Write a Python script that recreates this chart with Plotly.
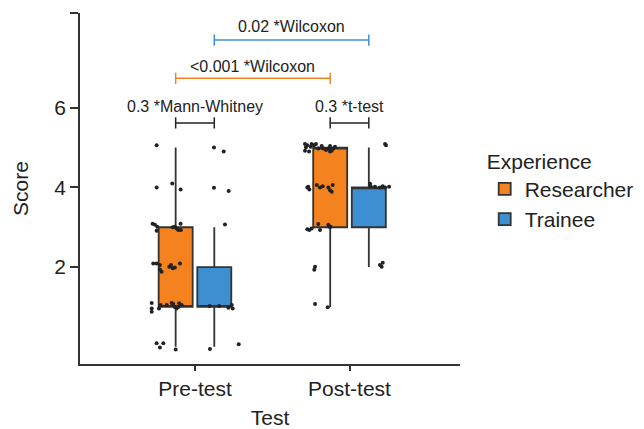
import plotly.graph_objects as go

# ---------------- data ----------------
tests = ["Pre-test", "Post-test"]
groups = ["Researcher", "Trainee"]
colors = {"Researcher": "#F4831F", "Trainee": "#3D8FD1"}

# box statistics per group (Pre-test, Post-test)
q1 = {"Researcher": [1, 3], "Trainee": [1, 3]}
median = {"Researcher": [1, 5], "Trainee": [1, 4]}
q3 = {"Researcher": [3, 5], "Trainee": [2, 4]}
lower = {"Researcher": [0, 1], "Trainee": [0, 2]}
upper = {"Researcher": [5, 5], "Trainee": [3, 5]}

# jittered raw scores (value, horizontal jitter relative to box centre)
pre_res_y = [5.06, 4.00, 4.10, 3.95, 3.09, 3.06, 3.01, 2.91, 3.00, 3.01, 2.97, 3.09, 2.93, 2.93,
             2.09, 2.09, 2.05, 1.94, 1.88, 2.01, 2.05, 1.97, 1.99, 2.09,
             1.10, 0.96, 0.88, 0.96, 1.05, 1.05, 1.10, 1.07, 1.00, 0.96, 1.09, 1.05, 1.00,
             0.09, -0.02, 0.09, -0.07]
pre_res_j = [-0.123, -0.123, -0.022, 0.032, -0.149, -0.134, -0.119, -0.123, -0.019, -0.005, 0.006, 0.032, 0.034, 0.017,
             -0.145, -0.123, -0.102, -0.102, -0.091, -0.041, -0.030, -0.019, -0.005, 0.028,
             -0.155, -0.155, -0.155, -0.108, -0.097, -0.058, -0.026, -0.016, -0.005, 0.006, 0.023, 0.039, 0.017,
             -0.123, -0.102, -0.080, 0.000]
pre_tra_y = [5.00, 4.90, 3.99, 3.91, 3.07, 1.02, 1.02, 0.98, 1.05, 0.96, -0.06, 0.06]
pre_tra_j = [-0.002, 0.061, -0.002, 0.093, 0.069, -0.030, 0.032, 0.091, 0.113, 0.119, -0.028, 0.158]
post_res_y = [5.09, 5.06, 5.01, 4.92, 4.90, 5.09, 5.06, 5.09, 4.98, 5.04, 4.98, 4.94, 4.98, 5.04, 4.92, 4.98,
              5.02, 4.90, 5.02,
              4.02, 4.00, 3.95, 4.06, 4.00, 4.03, 4.00, 3.93, 3.89, 4.06,
              2.95, 2.93, 2.97, 3.08, 2.93, 3.06, 3.01, 3.01,
              2.01, 1.93, 1.07, 0.99]
post_res_j = [-0.163, -0.148, -0.157, -0.163, -0.137, -0.120, -0.105, -0.092, -0.077, -0.055, -0.045, -0.027,
              -0.012, -0.001, 0.010, 0.020, 0.031, -0.001, -0.126,
              -0.142, -0.148, -0.135, -0.087, -0.066, -0.049, -0.012, -0.001, 0.010, 0.016,
              -0.148, -0.135, -0.120, -0.077, -0.066, -0.012, -0.006, 0.003,
              -0.098, -0.103, -0.098, -0.016]
post_tra_y = [5.09, 5.06, 4.09, 4.03, 4.02, 4.00, 4.03, 4.00, 4.02, 2.05, 2.01, 2.11]
post_tra_j = [0.105, 0.111, 0.008, 0.012, 0.040, 0.072, 0.090, 0.105, 0.131, 0.072, 0.083, 0.090]

points = {
    ("Researcher", 0): (pre_res_y, pre_res_j),
    ("Trainee", 0): (pre_tra_y, pre_tra_j),
    ("Researcher", 1): (post_res_y, post_res_j),
    ("Trainee", 1): (post_tra_y, post_tra_j),
}

# significance brackets
bracket_from = [("Trainee", 0), ("Researcher", 0), ("Researcher", 0), ("Researcher", 1)]
bracket_to = [("Trainee", 1), ("Researcher", 1), ("Trainee", 0), ("Trainee", 1)]
bracket_y = [7.70, 6.74, 5.62, 5.62]
bracket_text = ["0.02 *Wilcoxon", "<0.001 *Wilcoxon", "0.3 *Mann-Whitney", "0.3 *t-test"]
bracket_text_y = [8.03, 7.03, 6.03, 6.03]
bracket_color = ["#3D8FD1", "#F4831F", "#222222", "#222222"]

# ---------------- layout constants ----------------
BOXGAP = 0.5
BOXGROUPGAP = 0.12
dodge = {"Researcher": -(1 - BOXGAP) / 4, "Trainee": (1 - BOXGAP) / 4}
FONT = "Liberation Sans, Arial, Helvetica, sans-serif"
INK = "#222222"
FS = 21

fig = go.Figure()

for g in groups:
    fig.add_trace(go.Box(
        name=g, x=[0, 1], offsetgroup=g,
        q1=q1[g], median=median[g], q3=q3[g],
        lowerfence=lower[g], upperfence=upper[g],
        fillcolor=colors[g], line=dict(color="#333333", width=1.8),
        whiskerwidth=0, boxpoints=False, hoverinfo="skip",
    ))

for (g, t), (ys, js) in points.items():
    xs = [t + dodge[g] + j for j in js]
    fig.add_trace(go.Scatter(
        x=xs, y=ys, mode="markers", showlegend=False, hoverinfo="skip",
        marker=dict(color=INK, size=4),
    ))

for (ga, ta), (gb, tb), by, txt, ty, col in zip(bracket_from, bracket_to, bracket_y,
                                                 bracket_text, bracket_text_y, bracket_color):
    xa = ta + dodge[ga]
    xb = tb + dodge[gb]
    fig.add_trace(go.Scatter(
        x=[xa, xb], y=[by, by], mode="lines+markers", showlegend=False, hoverinfo="skip",
        line=dict(color=col, width=1.5),
        marker=dict(symbol="line-ns-open", size=8, line=dict(color=col, width=1.5)),
    ))
    fig.add_annotation(x=(xa + xb) / 2, y=ty, text=txt, showarrow=False,
                       xanchor="center", yanchor="middle",
                       font=dict(family=FONT, size=16, color=INK))

# the page body adds an 8px offset, so the figure is 8px smaller than the window
fig.update_layout(
    width=636, height=421,
    margin=dict(l=72, r=184, t=5, b=65, autoexpand=False),
    paper_bgcolor="white", plot_bgcolor="white",
    boxmode="group", boxgap=BOXGAP, boxgroupgap=BOXGROUPGAP,
    font=dict(family=FONT, size=FS, color=INK),
    legend=dict(
        title=dict(text="Experience", font=dict(size=FS)),
        x=1.065, xanchor="left", y=0.634, yanchor="top",
        font=dict(size=FS), itemwidth=30, tracegroupgap=0,
    ),
    xaxis=dict(
        range=[-0.744, 1.715], tickvals=[0, 1], ticktext=tests,
        showline=True, linecolor="#333333", linewidth=1.5,
        ticks="outside", ticklen=5, tickcolor="#333333", tickwidth=1.5,
        showgrid=False, zeroline=False, automargin=False,
        title=dict(text="Test", font=dict(size=FS), standoff=19),
    ),
    yaxis=dict(
        range=[-0.434, 8.38], tickvals=[2, 4, 6, 8.38], ticktext=["2", "4", "6", ""],
        showline=True, linecolor="#333333", linewidth=1.5,
        ticks="outside", ticklen=8, tickcolor="#333333", tickwidth=1.5,
        showgrid=False, zeroline=False, automargin=False,
        title=dict(text="Score", font=dict(size=FS), standoff=20),
    ),
)

fig.write_html("out.html")
